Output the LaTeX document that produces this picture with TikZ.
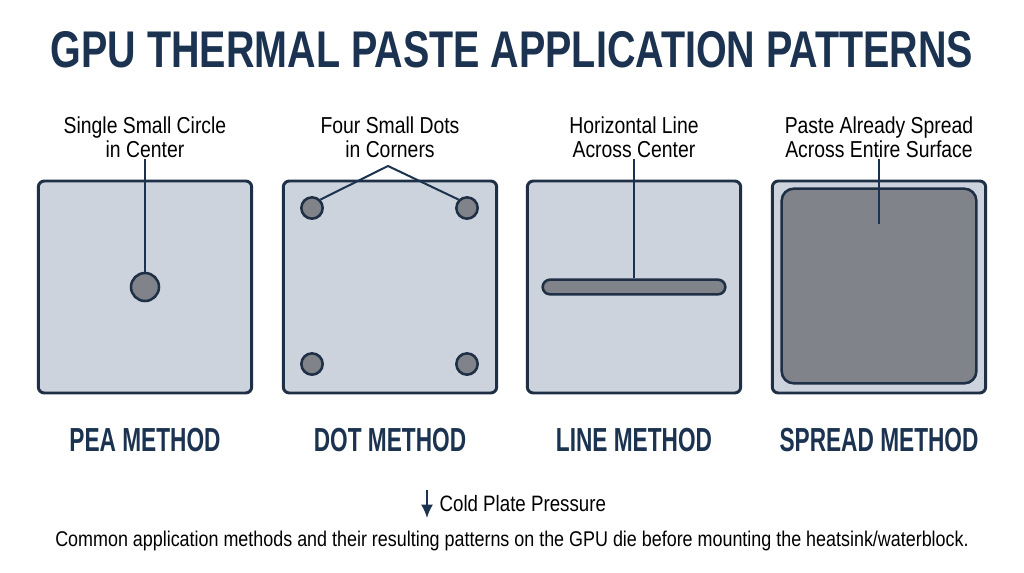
\documentclass[tikz,border=0pt]{standalone}
\usepackage{fontspec}
\setmainfont{Liberation Sans}
\newfontfamily\headfont[FakeStretch=0.765]{Liberation Sans}
\newfontfamily\methfont[FakeStretch=0.68]{Liberation Sans}
\newfontfamily\notefont[FakeStretch=0.84]{Liberation Sans}
\usetikzlibrary{arrows.meta,positioning}

\definecolor{navy}{HTML}{1B3350}
\definecolor{edge}{HTML}{1F2F45}
\definecolor{diefill}{HTML}{CDD3DC}
\definecolor{paste}{HTML}{808389}

\tikzset{
  die/.style={draw=edge,line width=2.2pt,fill=diefill,rounded corners=4.5pt,
    minimum width=160pt,minimum height=159pt,inner sep=0pt},
  blob/.style={draw=edge,line width=1.9pt,fill=paste,inner sep=0pt},
  note/.style={align=center,text=black,inner sep=1pt,
    font=\notefont\fontsize{17.3}{18}\selectfont},
  method/.style={text=navy,font=\methfont\bfseries\fontsize{25}{26}\selectfont},
  leader/.style={draw=navy,line width=1.5pt}
}

\begin{document}
\begin{tikzpicture}[x=0.75pt,y=-0.75pt]
  \useasboundingbox[fill=white] (0,0) rectangle (1024,572);

  % title
  \node[text=navy,font=\headfont\bfseries\fontsize{38.7}{40}\selectfont] (title) at (512,50)
    {GPU THERMAL PASTE APPLICATION PATTERNS};

  % dies
  \node[die] (die1) at (145,287) {};
  \node[die] (die2) at (390,287) {};
  \node[die] (die3) at (634,287) {};
  \node[die] (die4) at (879,287) {};

  % pea
  \node[blob,circle,minimum size=21pt] (pea) at (145,287) {};
  \node[note] (lab1) at (145,137) {Single Small Circle\\in Center};
  \draw[leader] (lab1.south) -- (pea.north);

  % dots
  \node[blob,circle,minimum size=16pt] (dot1) at (312,208) {};
  \node[blob,circle,minimum size=16pt] (dot2) at (467,208) {};
  \node[blob,circle,minimum size=16pt] (dot3) at (312,364) {};
  \node[blob,circle,minimum size=16pt] (dot4) at (467,364) {};
  \node[note] (lab2) at (390,137) {Four Small Dots\\in Corners};
  \coordinate (apex) at (388,166);
  \draw[leader] (dot1.north east) -- (apex) -- (dot2.north west);

  % line
  \node[blob,rounded corners=5.5pt,minimum width=137pt,minimum height=11pt] (bar) at (634,287) {};
  \node[note] (lab3) at (634,137) {Horizontal Line\\Across Center};
  \draw[leader] (lab3.south) -- (bar.north);

  % spread
  \node[blob,rounded corners=9pt,minimum width=146pt,minimum height=146pt] (layer) at (879,286) {};
  \node[note] (lab4) at (879,137) {Paste Already Spread\\Across Entire Surface};
  \coordinate (dip) at (879,224);
  \draw[leader] (lab4.south) -- (dip);

  % methods
  \node[method] (m1) at (145,440) {PEA METHOD};
  \node[method] (m2) at (390,440) {DOT METHOD};
  \node[method] (m3) at (634,440) {LINE METHOD};
  \node[method] (m4) at (879,440) {SPREAD METHOD};

  % pressure + caption
  \node[note,anchor=west,font=\notefont\fontsize{16.7}{17}\selectfont] (press) at (438,504) {Cold Plate Pressure};
  \coordinate (p1) at (427,490);
  \coordinate (p2) at (427,518);
  \draw[leader,-{Latex[length=10pt,width=9pt]}] (p1) -- (p2);
  \node[note,font=\notefont\fontsize{16}{17}\selectfont] (cap) at (512,541)
    {Common application methods and their resulting patterns on the GPU die before mounting the heatsink/waterblock.};
\end{tikzpicture}
\end{document}
